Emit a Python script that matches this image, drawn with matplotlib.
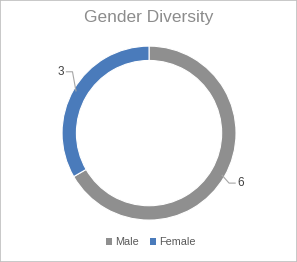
import matplotlib
matplotlib.use("Agg")
import matplotlib.pyplot as plt
import numpy as np
from matplotlib.patches import Rectangle
from matplotlib.lines import Line2D

categories = ["Male", "Female"]
values = [6, 3]
colors = ["#8f8f8f", "#4a7bbb"]
title = "Gender Diversity"

plt.rcParams['font.family'] = ['Liberation Sans', 'DejaVu Sans']

fig = plt.figure(figsize=(2.97, 2.62), dpi=100)
fig.patch.set_facecolor("white")
fig.add_artist(Rectangle((0, 0), 1, 1, transform=fig.transFigure, fill=False,
                         edgecolor="#bfbfbf", linewidth=1.2))

ax = fig.add_axes([0.2088, 0.160, 0.586, 0.664])
wedges, _ = ax.pie(values, colors=colors, startangle=90, counterclock=False,
                   radius=1.0, wedgeprops=dict(width=0.165, edgecolor="white", linewidth=0.8))
ax.set_xlim(-1, 1)
ax.set_ylim(-1, 1)
ax.set_aspect("equal")
ax.axis("off")

# data labels with leader lines
label_style = {
    0: dict(elbow=(0.08, -0.09), text=(0.2, -0.075)),
    1: dict(elbow=(-0.04, 0.22), text=(-0.19, 0.19)),
}
for i, (w, v) in enumerate(zip(wedges, values)):
    ang = np.deg2rad((w.theta1 + w.theta2) / 2)
    ax_ = np.cos(ang) * 0.97
    ay_ = np.sin(ang) * 0.97
    st = label_style[i]
    ex, ey = ax_ + st["elbow"][0], ay_ + st["elbow"][1]
    sgn = 1 if np.cos(ang) > 0 else -1
    hx = ex + sgn * 0.07
    ax.add_line(Line2D([ax_, ex, hx], [ay_, ey, ey], color="#a6a6a6", linewidth=0.8,
                       clip_on=False))
    ax.text(hx + sgn * 0.03, ey, str(v), ha="left" if sgn > 0 else "right", va="center",
            fontsize=8.5, color="#404040", clip_on=False)

fig.text(0.502, 0.935, title, ha="center", va="center", fontsize=12.5, color="#8c8c8c")

handles = [Rectangle((0, 0), 1, 1, facecolor=c, edgecolor="none") for c in colors]
leg = fig.legend(handles, categories, loc="center", bbox_to_anchor=(0.507, 0.076),
                 ncol=2, frameon=False, fontsize=7.8, handlelength=0.55, handleheight=0.55,
                 handletextpad=0.3, columnspacing=1.0)
for t in leg.get_texts():
    t.set_color("#595959")

fig.savefig("out.png", dpi=100)
